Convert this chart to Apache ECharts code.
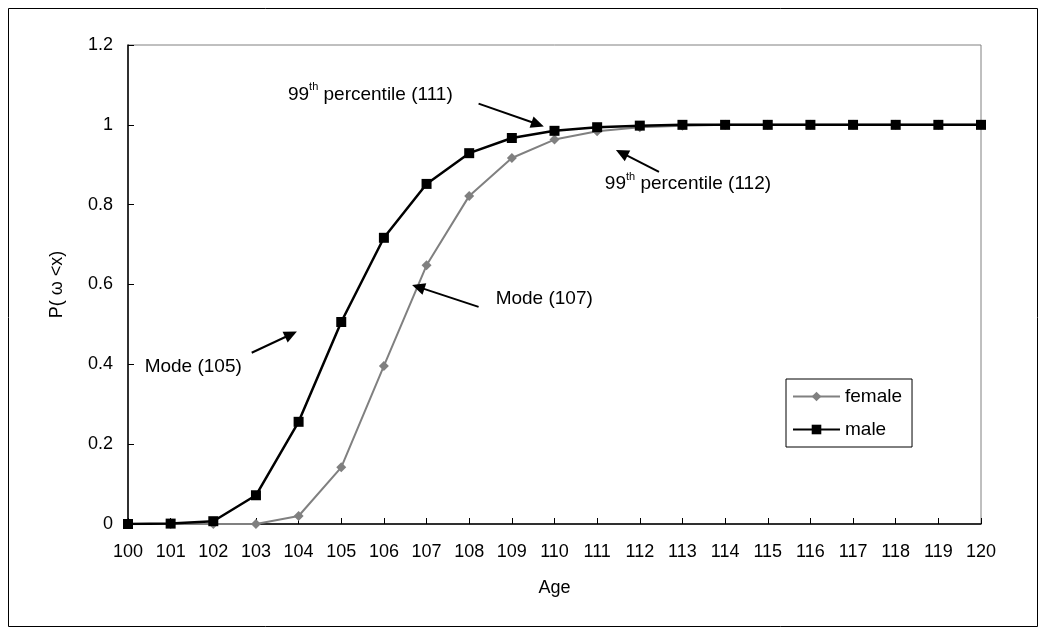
<!DOCTYPE html>
<html>
<head>
<meta charset="utf-8">
<script src="https://cdn.jsdelivr.net/npm/echarts@6/dist/echarts.min.js"></script>
<style>
html,body{margin:0;padding:0;background:#fff;}
#c{width:1047px;height:636px;}
</style>
</head>
<body>
<div id="c"></div>
<script>
// ---- data ----
var ages = [100,101,102,103,104,105,106,107,108,109,110,111,112,113,114,115,116,117,118,119,120];
var femaleValues = [0,0,0,0,0.02,0.142,0.396,0.648,0.822,0.917,0.963,0.984,0.994,0.998,1,1,1,1,1,1,1];
var maleValues = [0,0.001,0.007,0.072,0.256,0.506,0.717,0.852,0.929,0.967,0.985,0.994,0.998,1,1,1,1,1,1,1,1];
var yTicks = [0,0.2,0.4,0.6,0.8,1,1.2];
var seriesNames = ['female','male'];
// annotations: text + arrow tail/head in data space
var annotations = [
  {pre:'99', sup:'th', post:' percentile (111)', text:[103.75,1.080], tail:[108.22,1.053], head:[109.75,0.996]},
  {pre:'99', sup:'th', post:' percentile (112)', text:[111.18,0.855], tail:[112.45,0.882], head:[111.44,0.937]},
  {pre:'Mode (107)', sup:'', post:'', text:[108.62,0.569], tail:[108.22,0.544], head:[106.66,0.599]},
  {pre:'Mode (105)', sup:'', post:'', text:[100.39,0.398], tail:[102.90,0.429], head:[103.96,0.482]}
];

function pairs(xs, ys){ return xs.map(function(x,i){return [x, ys[i]];}); }

var FONT = 'Liberation Sans, Arial, sans-serif';
var FS = 18, FSA = 19;
var chart = echarts.init(document.getElementById('c'), null, {renderer:'canvas'});
var option = {
  backgroundColor:'#fff',
  animation:false,
  textStyle:{fontFamily:FONT},
  grid:{left:128, right:66, top:45, bottom:112, show:true, borderColor:'#808080', borderWidth:1, backgroundColor:'transparent'},
  legend:{
    data:seriesNames,
    orient:'vertical',
    left:786, top:379,
    itemWidth:47, itemHeight:12, itemGap:14,
    padding:[8,10,8,6],
    borderColor:'#000', borderWidth:1,
    textStyle:{fontFamily:FONT, fontSize:FSA, color:'#000'}
  },
  xAxis:{
    type:'value', min:100, max:120, interval:1,
    name:'Age', nameLocation:'middle', nameGap:55,
    nameTextStyle:{fontFamily:FONT, fontSize:FS, color:'#000'},
    axisLine:{lineStyle:{color:'#000', width:1.5}},
    axisTick:{inside:true, length:6, lineStyle:{color:'#000'}},
    axisLabel:{fontFamily:FONT, fontSize:FS, color:'#000', margin:19},
    splitLine:{show:false}
  },
  yAxis:{
    type:'value', min:yTicks[0], max:yTicks[yTicks.length-1], interval:0.2,
    name:'P( ω <x)', nameLocation:'middle', nameGap:62, nameRotate:90,
    nameTextStyle:{fontFamily:FONT, fontSize:FS, color:'#000'},
    axisLine:{show:true, lineStyle:{color:'#000', width:1.5}},
    axisTick:{show:true, inside:true, length:6, lineStyle:{color:'#000'}},
    axisLabel:{fontFamily:FONT, fontSize:FS, color:'#000', margin:15,
      formatter:function(v){ return String(Math.round(v*10)/10); }},
    splitLine:{show:false}
  },
  series:[
    {name:seriesNames[0], type:'line', data:pairs(ages,femaleValues),
     symbol:'diamond', symbolSize:10, color:'#808080',
     lineStyle:{color:'#808080', width:2}, itemStyle:{color:'#808080'}, z:2},
    {name:seriesNames[1], type:'line', data:pairs(ages,maleValues),
     symbol:'rect', symbolSize:10, color:'#000',
     lineStyle:{color:'#000', width:2.5}, itemStyle:{color:'#000'}, z:3}
  ]
};
chart.setOption(option);

function px(p){ return chart.convertToPixel({gridIndex:0}, p); }
var elements = [];
// outer frame
elements.push({type:'rect', shape:{x:8.5,y:8.5,width:1029,height:618}, style:{fill:null, stroke:'#000', lineWidth:1}, z:0, silent:true});
annotations.forEach(function(a){
  var t = px(a.tail), h = px(a.head), tp = px(a.text);
  var dx = h[0]-t[0], dy = h[1]-t[1], L = Math.sqrt(dx*dx+dy*dy);
  var ux = dx/L, uy = dy/L, nx = -uy, ny = ux;
  var hl = 13, hw = 6;
  var bx = h[0]-ux*hl, by = h[1]-uy*hl;
  elements.push({type:'line', shape:{x1:t[0],y1:t[1],x2:bx+ux*2,y2:by+uy*2}, style:{stroke:'#000', lineWidth:2}, z:10, silent:true});
  elements.push({type:'polygon', shape:{points:[[h[0],h[1]],[bx+nx*hw,by+ny*hw],[bx-nx*hw,by-ny*hw]]}, style:{fill:'#000'}, z:10, silent:true});
  var txt = a.sup ? '{n|'+a.pre+'}{s|'+a.sup+'}{n|'+a.post+'}' : '{n|'+a.pre+'}';
  elements.push({type:'text', x:tp[0], y:tp[1], z:10, silent:true,
    style:{text:txt, textVerticalAlign:'middle', verticalAlign:'middle', fill:'#000',
      rich:{n:{fontFamily:FONT, fontSize:FSA, fill:'#000', lineHeight:22, verticalAlign:'bottom'},
            s:{fontFamily:FONT, fontSize:11, fill:'#000', lineHeight:22, verticalAlign:'top', padding:[0,0,0,0]}}}});
});
chart.setOption({graphic:{elements:elements}});
</script>
</body>
</html>
